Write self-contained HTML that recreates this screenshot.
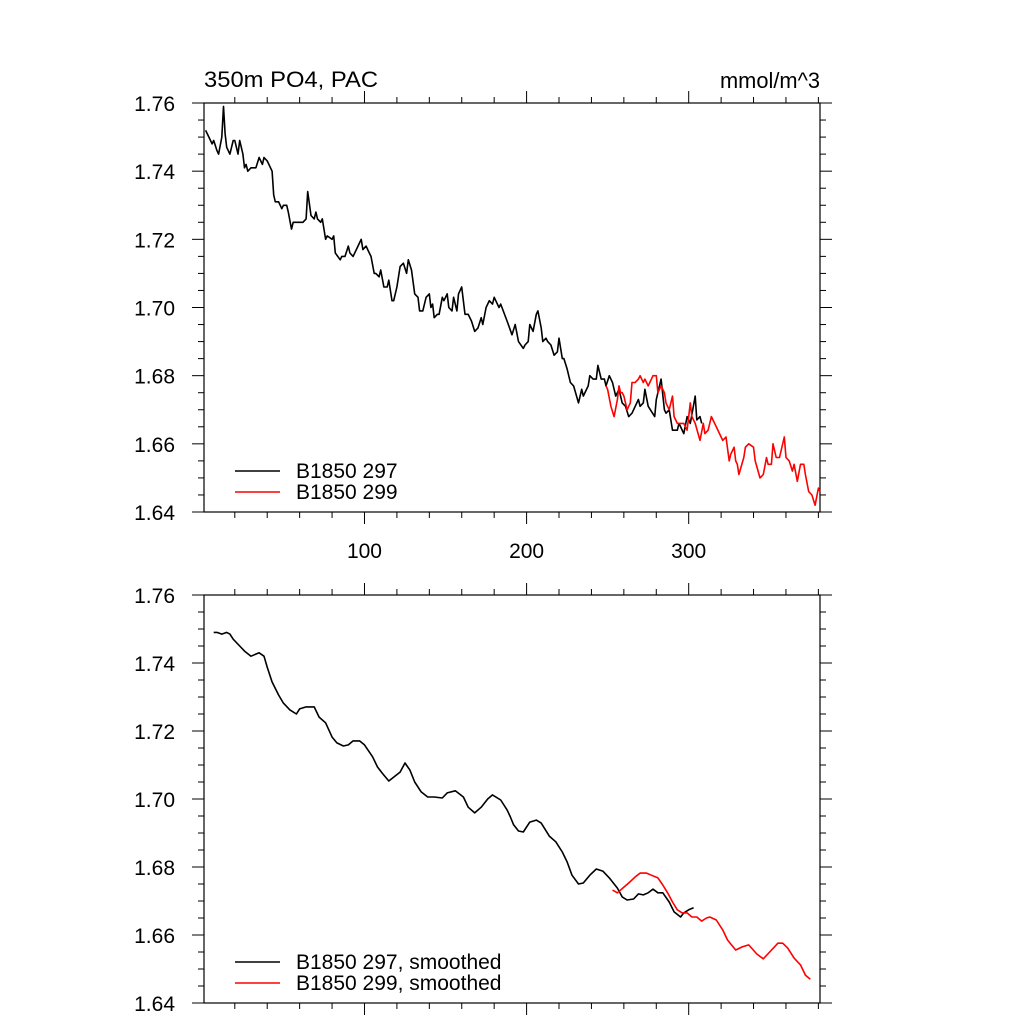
<!DOCTYPE html>
<html><head><meta charset="utf-8"><style>
html,body{margin:0;padding:0;background:#fff;}
svg{display:block;font-family:"Liberation Sans",sans-serif;}
</style></head><body>
<svg id="chart" width="1024" height="1024" viewBox="0 0 1024 1024" xmlns="http://www.w3.org/2000/svg"></svg>
<script>
const topYears297=[2,4,6,7,9,10,12,13,14,15,17,19,20,22,23,25,26,27,28,30,31,33,35,36,37,38,40,43,44,45,47,49,50,52,53,55,56,59,62,64,65,67,69,70,71,73,74,76,77,80,81,82,85,86,88,90,91,93,96,98,99,101,102,104,106,107,109,110,112,114,115,117,118,120,122,124,126,127,129,131,133,134,136,138,140,141,142,143,145,146,148,149,151,152,154,155,157,158,160,162,164,166,168,170,172,173,175,177,179,180,183,184,188,191,193,195,198,199,201,202,204,206,207,209,210,212,213,215,217,219,220,222,223,225,227,229,232,234,235,238,239,241,243,244,246,248,249,251,253,255,257,259,261,263,265,269,270,272,273,275,279,280,283,285,286,288,290,293,294,297,299,301,304,305,307,308];
const topVals297=[1.752,1.750,1.748,1.749,1.746,1.745,1.750,1.759,1.751,1.747,1.745,1.749,1.749,1.745,1.749,1.745,1.741,1.742,1.740,1.741,1.741,1.741,1.744,1.743,1.742,1.744,1.743,1.740,1.733,1.731,1.731,1.729,1.730,1.730,1.728,1.723,1.725,1.725,1.725,1.726,1.734,1.727,1.726,1.728,1.726,1.725,1.726,1.720,1.721,1.720,1.721,1.716,1.714,1.715,1.715,1.718,1.716,1.715,1.718,1.720,1.717,1.718,1.717,1.715,1.710,1.710,1.709,1.711,1.706,1.706,1.708,1.702,1.702,1.706,1.712,1.713,1.710,1.714,1.711,1.704,1.703,1.699,1.699,1.703,1.704,1.700,1.701,1.697,1.698,1.698,1.703,1.702,1.704,1.700,1.699,1.703,1.699,1.704,1.706,1.698,1.698,1.696,1.693,1.694,1.697,1.695,1.700,1.702,1.701,1.703,1.700,1.701,1.696,1.692,1.695,1.690,1.688,1.689,1.690,1.695,1.693,1.698,1.699,1.694,1.690,1.691,1.690,1.689,1.686,1.687,1.691,1.685,1.685,1.682,1.678,1.677,1.672,1.676,1.674,1.677,1.680,1.679,1.679,1.683,1.679,1.679,1.677,1.680,1.678,1.674,1.676,1.672,1.671,1.668,1.669,1.673,1.671,1.672,1.676,1.671,1.668,1.673,1.679,1.670,1.669,1.670,1.664,1.664,1.666,1.663,1.668,1.666,1.674,1.667,1.668,1.666];
const topYears299=[249,250,252,254,256,257,258,259,260,262,264,265,267,269,270,272,273,275,276,278,280,281,283,285,286,288,290,291,293,294,297,299,301,302,304,307,309,310,312,314,315,317,319,321,323,325,326,328,329,330,331,334,335,337,340,341,344,346,348,349,351,352,354,356,359,360,362,364,365,367,369,371,372,374,376,378,380,381];
const topVals299=[1.677,1.676,1.671,1.668,1.673,1.677,1.675,1.675,1.674,1.670,1.672,1.678,1.678,1.679,1.680,1.678,1.679,1.677,1.678,1.680,1.680,1.675,1.677,1.675,1.672,1.670,1.674,1.668,1.666,1.666,1.666,1.664,1.672,1.668,1.666,1.661,1.666,1.663,1.664,1.668,1.667,1.665,1.663,1.661,1.662,1.655,1.657,1.659,1.655,1.654,1.651,1.656,1.659,1.660,1.659,1.655,1.650,1.651,1.656,1.654,1.654,1.660,1.656,1.656,1.662,1.656,1.655,1.652,1.654,1.649,1.654,1.654,1.651,1.646,1.645,1.642,1.647,1.646];
const botYears297=[7,9,12,15,17,19,23,26,30,32,35,38,40,43,47,50,54,58,60,64,69,72,76,80,83,87,90,93,97,100,105,108,111,115,119,122,125,128,131,135,139,143,148,151,156,161,164,168,172,176,179,184,188,190,192,195,198,202,206,209,214,218,222,225,228,232,235,239,243,247,251,256,259,262,266,269,272,275,278,281,284,288,291,295,297,300,303];
const botVals297=[1.749,1.749,1.7485,1.749,1.7485,1.747,1.745,1.7435,1.742,1.7424,1.743,1.742,1.7388,1.7344,1.7306,1.7282,1.7262,1.725,1.7265,1.7271,1.7271,1.7241,1.7224,1.7182,1.7165,1.7156,1.7159,1.7171,1.7171,1.7159,1.7124,1.7094,1.7076,1.7053,1.7068,1.7079,1.7106,1.7085,1.705,1.7021,1.7006,1.7006,1.7003,1.7018,1.7024,1.7006,1.6976,1.6959,1.6976,1.700,1.7012,1.6997,1.6968,1.6947,1.6924,1.6906,1.6903,1.6932,1.6938,1.6929,1.6891,1.6874,1.6844,1.6815,1.6776,1.675,1.6753,1.6776,1.6794,1.6788,1.6768,1.6738,1.6712,1.6703,1.6706,1.6721,1.6718,1.6724,1.6735,1.6724,1.6724,1.6697,1.6668,1.6653,1.6665,1.6674,1.668];
const botYears299=[253,256,260,263,267,270,274,277,281,284,287,290,293,296,299,302,305,308,311,313,317,321,324,329,333,337,342,346,350,355,358,361,365,369,372,375];
const botVals299=[1.6732,1.6724,1.6741,1.6753,1.6771,1.6782,1.6782,1.6776,1.6768,1.6747,1.6724,1.6697,1.6674,1.6665,1.6665,1.6653,1.6653,1.6641,1.665,1.6653,1.6644,1.6615,1.6585,1.6556,1.6565,1.6571,1.6544,1.653,1.655,1.6576,1.6576,1.6562,1.6532,1.6512,1.6482,1.647];
const yTickLabels=["1.64","1.66","1.68","1.70","1.72","1.74","1.76"];
const xTickLabels=["100","200","300"];

const NS="http://www.w3.org/2000/svg";
const svg=document.getElementById('chart');
function mk(tag,attrs,parent){const e=document.createElementNS(NS,tag);for(const k in attrs)e.setAttribute(k,attrs[k]);(parent||svg).appendChild(e);return e;}
const XMIN=1,XMAX=381,YMIN=1.64,YMAX=1.76,L=204,R=820;
function panel(top,bottom,name,showX,s1x,s1y,s2x,s2y,leg1,leg2,legY,legW){
  const g=mk('g',{});
  
  
  const xs=v=>L+(v-XMIN)/(XMAX-XMIN)*(R-L);
  const ys=v=>bottom-(v-YMIN)/(YMAX-YMIN)*(bottom-top);
  const fr=mk('rect',{x:L,y:top,width:R-L,height:bottom-top,fill:'none',stroke:'#000','stroke-width':1.2},g);
  
  
  for(let v=20;v<=XMAX;v+=20){
    const x=xs(v);const maj=v%100===0;const len=maj?12:6;
    mk('line',{x1:x,y1:top,x2:x,y2:top-len,stroke:'#000','stroke-width':1},g);
    mk('line',{x1:x,y1:bottom,x2:x,y2:bottom+len,stroke:'#000','stroke-width':1},g);
  }
  for(let i=0;i<=24;i++){
    const v=YMIN+i*0.005;const y=ys(v);const maj=i%4===0;const len=maj?12:6;
    mk('line',{x1:L,y1:y,x2:L-len,y2:y,stroke:'#000','stroke-width':1},g);
    mk('line',{x1:R,y1:y,x2:R+len,y2:y,stroke:'#000','stroke-width':1},g);
  }
  yTickLabels.forEach((t,i)=>{
    const el=mk('text',{x:175,y:ys(parseFloat(t))+8,'text-anchor':'end','font-size':21},g);
    el.textContent=t;
    
    
  });
  if(showX){
    xTickLabels.forEach(t=>{
      const el=mk('text',{x:xs(parseFloat(t)),y:bottom+46,'text-anchor':'middle','font-size':21},g);
      el.textContent=t;
      
      
    });
  }
  function line(xa,ya,color,nm){
    const d=xa.map((x,i)=>(i?'L':'M')+xs(x).toFixed(1)+','+ys(ya[i]).toFixed(1)).join('');
    const p=mk('path',{d:d,fill:'none',stroke:color,'stroke-width':1.6,'stroke-linejoin':'round'},g);
    
    
  }
  line(s1x,s1y,'#000','series-b1850-297');
  line(s2x,s2y,'#f00','series-b1850-299');
  [[leg1,'#000',legY],[leg2,'#f00',legY+21]].forEach(([t,c,y],i)=>{
    const lg=mk('g',{},g);
    
    
    mk('line',{x1:235,y1:y,x2:280,y2:y,stroke:c,'stroke-width':1.6},lg);
    const tx=mk('text',{x:296,y:y+7,'font-size':21},lg);
    tx.textContent=t;
  });
}
panel(103,512,'top-panel',true,topYears297,topVals297,topYears299,topVals299,'B1850 297','B1850 299',471);
panel(595,1003,'bottom-panel',false,botYears297,botVals297,botYears299,botVals299,'B1850 297, smoothed','B1850 299, smoothed',962);
const t1=mk('text',{x:204,y:87,'font-size':22,textLength:174,lengthAdjust:'spacingAndGlyphs'});t1.textContent='350m PO4, PAC';


const t2=mk('text',{x:720,y:88,'font-size':22,textLength:100,lengthAdjust:'spacingAndGlyphs'});t2.textContent='mmol/m^3';


</script>
</body></html>
